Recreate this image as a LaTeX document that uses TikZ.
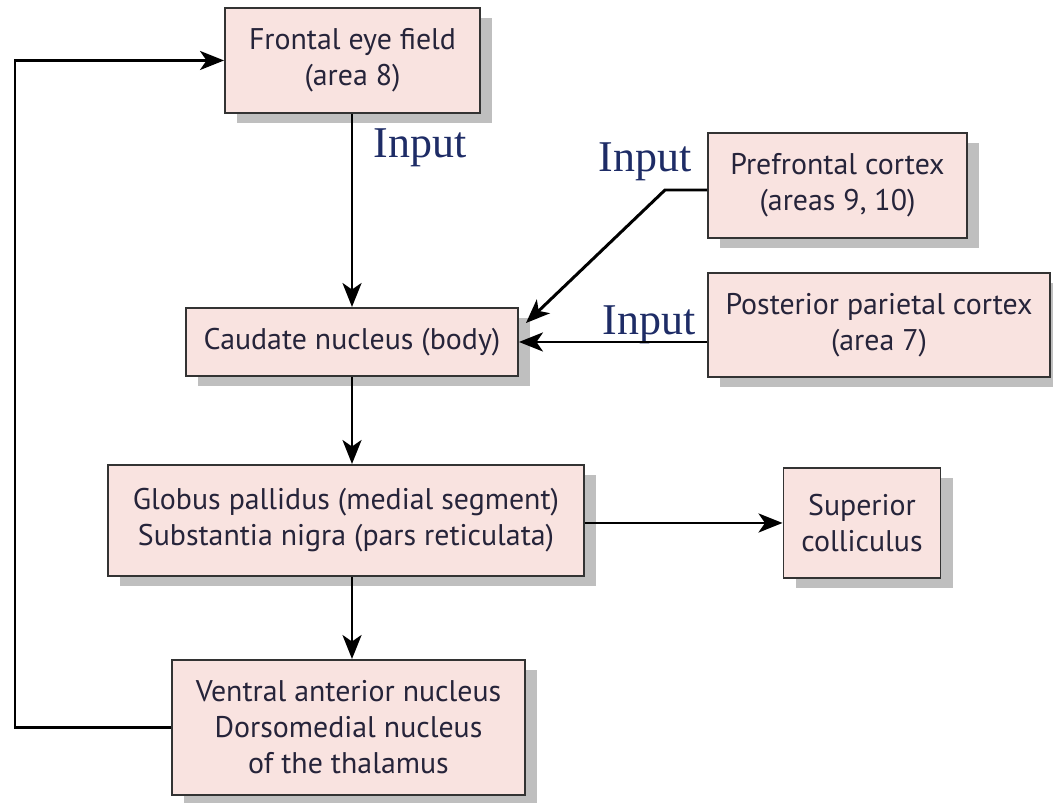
\documentclass[tikz,border=0pt]{standalone}
\usepackage{fontspec}
\setmainfont{Liberation Serif}
\newfontfamily\boxfont{PT Sans}
\usetikzlibrary{arrows.meta,shadows}
\definecolor{boxfill}{HTML}{F9E3E0}
\definecolor{boxline}{HTML}{333333}
\definecolor{inputblue}{HTML}{1E2C66}
\definecolor{boxtext}{HTML}{26243A}
\tikzset{
  area/.style={draw = boxline, line width = 1.1pt, fill = boxfill, align = center,
    inner sep = 0pt, text = boxtext, font = \boxfont\fontsize{17}{20.5}\selectfont,
    drop shadow = {shadow xshift = 0.24cm, shadow yshift = -0.2cm, fill = black!25, opacity = 1}},
  link/.style={line width = 1.7pt, -{Stealth[length = 0.48cm, width = 0.38cm, inset = 0.13cm]}},
  inlabel/.style={text = inputblue, font = \fontsize{25}{28}\selectfont}
}
\begin{document}
\begin{tikzpicture}

      \useasboundingbox (0, 0) rectangle (21.06, -16.06);

      \node[area, minimum width = 5.1cm, minimum height = 2.1cm] (fef) at (7.05, -1.21) {Frontal eye field\\(area 8)};
      \node[area, minimum width = 5.18cm, minimum height = 2.1cm] (pfc) at (16.75, -3.71) {Prefrontal cortex\\(areas 9, 10)};
      \node[area, minimum width = 6.84cm, minimum height = 2.08cm] (ppc) at (17.58, -6.5) {Posterior parietal cortex\\(area 7)};
      \node[area, minimum width = 6.64cm, minimum height = 1.36cm] (cau) at (7.04, -6.84) {Caudate nucleus (body)};
      \node[area, minimum width = 9.52cm, minimum height = 2.22cm] (gp) at (6.92, -10.41) {Globus pallidus (medial segment)\\Substantia nigra (pars reticulata)};
      \node[area, minimum width = 3.14cm, minimum height = 2.2cm] (sc) at (17.24, -10.46) {Superior\\colliculus};
      \node[area, minimum width = 7.06cm, minimum height = 2.7cm] (vt) at (6.97, -14.55) {Ventral anterior nucleus\\Dorsomedial nucleus\\of the thalamus};

      \node[inlabel] (in1) at (8.4, -2.96) {Input};
      \node[inlabel] (in2) at (12.9, -3.24) {Input};
      \node[inlabel] (in3) at (12.98, -6.5) {Input};

      \coordinate (bend) at (13.3, -3.8);
      \coordinate (cautop) at (10.52, -6.46);
      \coordinate (loop) at (vt.west -| 0.3, 0);

      \draw[link] (fef.south -| 7.04, 0) -- (cau.north -| 7.04, 0);
      \draw[link] (cau.south -| 7.04, 0) -- (gp.north -| 7.04, 0);
      \draw[link] (gp.south -| 7.04, 0) -- (vt.north -| 7.04, 0);
      \draw[link] (gp.east |- sc.west) -- (sc.west);
      \draw[link] (ppc.west |- cau.east) -- (cau.east);
      \draw[link] (pfc.west |- bend) -- (bend) -- (cautop);
      \draw[link] (vt.west) -- (loop) |- (fef.west);

    \end{tikzpicture}
\end{document}
